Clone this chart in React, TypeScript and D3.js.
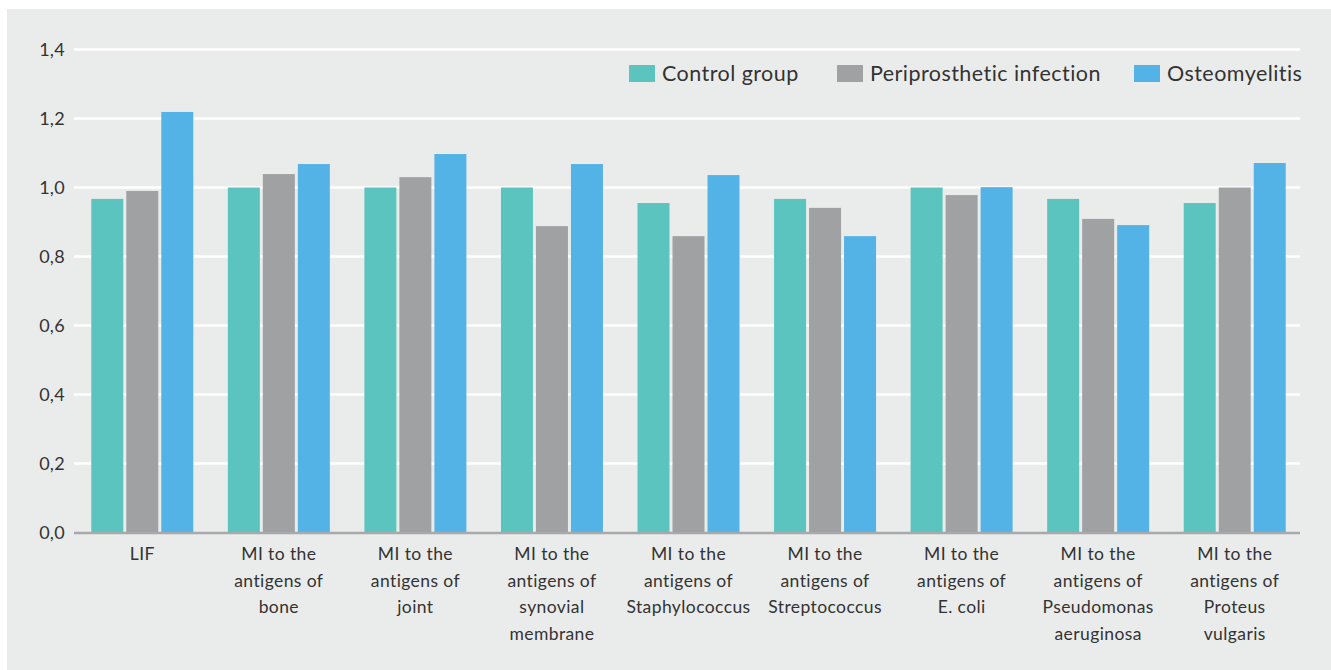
import React from "react";
import * as d3 from "d3";

const categories: string[][] = [
  ["LIF"],
  ["MI to the", "antigens of", "bone"],
  ["MI to the", "antigens of", "joint"],
  ["MI to the", "antigens of", "synovial", "membrane"],
  ["MI to the", "antigens of", "Staphylococcus"],
  ["MI to the", "antigens of", "Streptococcus"],
  ["MI to the", "antigens of", "E. coli"],
  ["MI to the", "antigens of", "Pseudomonas", "aeruginosa"],
  ["MI to the", "antigens of", "Proteus", "vulgaris"],
];

const seriesNames = ["Control group", "Periprosthetic infection", "Osteomyelitis"];
const controlGroup = [0.967, 1.0, 1.0, 1.0, 0.955, 0.967, 1.0, 0.967, 0.955];
const periprostheticInfection = [0.99, 1.039, 1.03, 0.888, 0.859, 0.941, 0.978, 0.909, 1.0];
const osteomyelitis = [1.219, 1.068, 1.097, 1.068, 1.036, 0.859, 1.001, 0.891, 1.071];
const yTicks = [0, 0.2, 0.4, 0.6, 0.8, 1.0, 1.2, 1.4];

const colors = ["#5BC4BF", "#A0A1A3", "#54B3E6"];
const FONT = "Lato, 'Open Sans', sans-serif";

export default function App() {
  const W = 1331;
  const H = 670;
  const plotLeft = 74;
  const plotRight = 1303;
  const yScale = d3.scaleLinear().domain([0, 1.4]).range([532.5, 49.5]);
  const keys = categories.map((_, i) => String(i));
  const x0 = d3.scaleBand<string>().domain(keys).range([plotLeft, plotRight]).paddingInner(0).paddingOuter(0);
  const groupW = 102;
  const x1 = d3
    .scaleBand<string>()
    .domain(seriesNames)
    .range([0, groupW])
    .paddingInner(3 / 35)
    .paddingOuter(0);
  const series = [controlGroup, periprostheticInfection, osteomyelitis];

  const legendItems = [
    { x: 629, tx: 662 },
    { x: 837, tx: 870 },
    { x: 1134, tx: 1167 },
  ];

  return (
    <svg
      width={W}
      height={H}
      style={{ position: "absolute", left: 0, top: 0 }}
      fontFamily={FONT}
    >
      <rect x={7} y={9} width={W - 7} height={H - 9} fill="#EAECEB" />
      {yTicks.slice(1).map((t) => (
        <line
          key={t}
          x1={plotLeft}
          x2={1300}
          y1={yScale(t)}
          y2={yScale(t)}
          stroke="#FFFFFF"
          strokeWidth={2.5}
        />
      ))}
      {yTicks.map((t) => (
        <text
          key={"l" + t}
          x={65}
          y={yScale(t)}
          dy="0.35em"
          textAnchor="end"
          fontSize={18}
          letterSpacing={0.3}
          fill="#333"
        >
          {d3.format(".1f")(t).replace(".", ",")}
        </text>
      ))}
      {keys.map((k, ci) => {
        const gx = (x0(k) as number) + (x0.bandwidth() - groupW) / 2;
        return (
          <g key={k}>
            {series.map((s, si) => (
              <rect
                key={si}
                x={gx + (x1(seriesNames[si]) as number)}
                y={yScale(s[ci])}
                width={x1.bandwidth()}
                height={yScale(0) - yScale(s[ci])}
                fill={colors[si]}
              />
            ))}
          </g>
        );
      })}
      <line
        x1={plotLeft}
        x2={1300}
        y1={yScale(0) + 0.5}
        y2={yScale(0) + 0.5}
        stroke="#A7A9AC"
        strokeWidth={2.5}
      />
      {keys.map((k, ci) => {
        const cx = (x0(k) as number) + x0.bandwidth() / 2;
        return (
          <text key={"x" + k} textAnchor="middle" fontSize={17.5} letterSpacing={0.4} fill="#333">
            {categories[ci].map((line, li) => (
              <tspan key={li} x={cx} y={560 + li * 26.7}>
                {line}
              </tspan>
            ))}
          </text>
        );
      })}
      {seriesNames.map((name, i) => (
        <g key={name}>
          <rect x={legendItems[i].x} y={65} width={26} height={17} fill={colors[i]} />
          <text x={legendItems[i].tx} y={81} fontSize={21.5} letterSpacing={0.45} fill="#333">
            {name}
          </text>
        </g>
      ))}
    </svg>
  );
}
